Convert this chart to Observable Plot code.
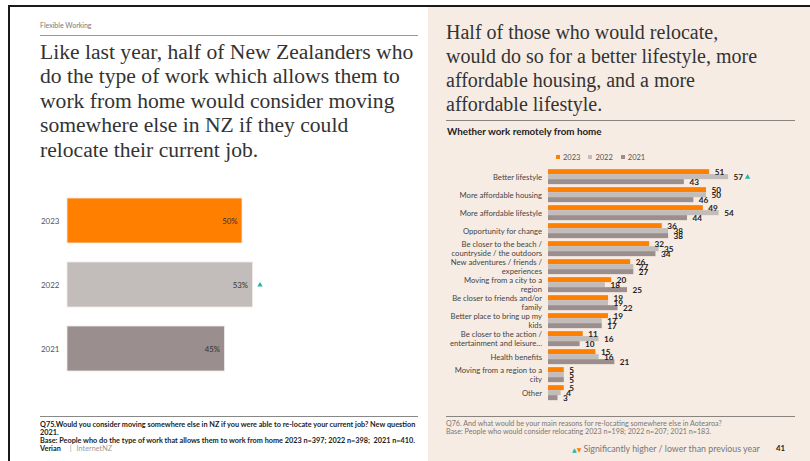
<!DOCTYPE html>
<html><head><meta charset="utf-8">
<script src="https://cdn.jsdelivr.net/npm/d3@7"></script>
<script src="https://cdn.jsdelivr.net/npm/@observablehq/plot@0.6"></script>
<style>
body{margin:0;}
#slide{position:relative;width:810px;height:461px;overflow:hidden;background:#fff;font-family:Lato, sans-serif;}
.abs{position:absolute;}
.serif{font-family:"Liberation Serif", serif;color:#333;white-space:nowrap;}
.note{white-space:nowrap;line-height:8px;}
</style></head><body>
<div id="slide">
  <div class="abs" style="left:428px;top:7px;width:382px;height:454px;background:#f7ece3"></div>
  <div class="abs" style="left:8px;top:5px;width:802px;height:2px;background:#1a1a1a"></div>
  <div class="abs" style="left:8px;top:5px;width:2px;height:456px;background:#1a1a1a"></div>

  <div class="abs" style="left:40px;top:20.5px;font-size:7px;color:#777;white-space:nowrap;">Flexible Working</div>
  <div class="abs" style="left:40px;top:35px;width:378px;height:1px;background:#999"></div>
  <div class="abs serif" style="left:40px;top:39.5px;font-size:21.6px;line-height:24.6px;">Like last year, half of New Zealanders who<br>do the type of work which allows them to<br>work from home would consider moving<br>somewhere else in NZ if they could<br>relocate their current job.</div>

  <div class="abs serif" style="left:446px;top:19.5px;font-size:20px;line-height:24px;">Half of those who would relocate,<br>would do so for a better lifestyle, more<br>affordable housing, and a more<br>affordable lifestyle.</div>
  <div class="abs" style="left:446px;top:120px;width:349px;height:1px;background:#8a8480"></div>
  <div class="abs" style="left:447px;top:124.5px;font-size:9.8px;font-weight:bold;color:#222;white-space:nowrap;">Whether work remotely from home</div>
  <div id="legend" class="abs" style="left:556px;top:152.5px;font-size:7.5px;color:#555;white-space:nowrap;"></div>

  <div id="leftchart" class="abs" style="left:0;top:180px;"></div>
  <div id="rightchart" class="abs" style="left:428px;top:160px;"></div>

  <div class="abs" style="left:40px;top:416px;width:378px;height:1px;background:#888"></div>
  <div class="abs note" style="left:40px;top:420.5px;font-size:7.3px;font-weight:bold;color:#222;">Q75.Would you consider moving somewhere else in NZ if you were able to re-locate your current job? New question<br>2021.<br>Base: People who do the type of work that allows them to work from home 2023 n=397; 2022 n=398;&nbsp; 2021 n=410.<br><span>Verian</span><span style="font-weight:normal;color:#999;margin-left:9px;">|</span><span style="font-weight:normal;color:#999;margin-left:5px;">InternetNZ</span></div>

  <div class="abs" style="left:446px;top:416px;width:349px;height:1px;background:#8a8480"></div>
  <div class="abs note" style="left:446px;top:420px;font-size:7.15px;color:#777;">Q76. And what would be your main reasons for re-locating somewhere else in Aotearoa?<br>Base: People who would consider relocating 2023 n=198; 2022 n=207; 2021 n=183.</div>
  <div class="abs" style="left:572px;top:442.5px;font-size:8.8px;color:#777;white-space:nowrap;"><span style="color:#26b5a8;font-size:6px;font-family:'DejaVu Sans'">▲</span><span style="color:#ff7f00;font-size:6px;font-family:'DejaVu Sans'">▼</span> Significantly higher / lower than previous year</div>
  <div class="abs" style="left:776px;top:443px;font-size:7.8px;font-weight:bold;color:#222;">41</div>
</div>
<script>
const years = ["2023", "2022", "2021"];
const colors = ["#ff7f00", "#c2bcbb", "#9a8f8e"];
const teal = "#26b5a8";

// Left chart: would consider moving
const leftValues = [50, 53, 45];
const leftSig = ["", "up", ""];

// Right chart: reasons for relocating
const reasons = [
  "Better lifestyle",
  "More affordable housing",
  "More affordable lifestyle",
  "Opportunity for change",
  "Be closer to the beach /\ncountryside / the outdoors",
  "New adventures / friends /\nexperiences",
  "Moving from a city to a\nregion",
  "Be closer to friends and/or\nfamily",
  "Better place to bring up my\nkids",
  "Be closer to the action /\nentertainment and leisure…",
  "Health benefits",
  "Moving from a region to a\ncity",
  "Other"
];
const v2023 = [51, 50, 49, 36, 32, 26, 20, 19, 19, 11, 15, 5, 5];
const v2022 = [57, 50, 54, 38, 35, 27, 18, 19, 17, 16, 16, 5, 4];
const v2021 = [43, 46, 44, 38, 34, 27, 25, 22, 17, 10, 21, 5, 3];
const sig2022 = ["up", "", "", "", "", "", "", "", "", "", "", "", ""];

const leftData = years.map((y, i) => ({year: y, value: leftValues[i], sig: leftSig[i]}));

const left = Plot.plot({
  width: 428, height: 205,
  marginLeft: 67, marginRight: 11, marginTop: 8.5, marginBottom: 4.5,
  style: {background: "transparent", fontFamily: "Lato, sans-serif"},
  x: {domain: [0, 100], axis: null},
  y: {domain: years, paddingInner: 0.297, paddingOuter: 0.148, label: null},
  color: {domain: years, range: colors},
  marks: [
    Plot.barX(leftData, {x: "value", y: "year", fill: "year", stroke: "#eeeae8", strokeWidth: 0.8}),
    Plot.axisY({tickSize: 0, tickPadding: 8, fontSize: 8, color: "#555", label: null}),
    Plot.text(leftData, {x: "value", y: "year", text: d => d.value + "%", textAnchor: "end", dx: -5, fontSize: 7.8, fill: "#333"}),
    Plot.dot(leftData.filter(d => d.sig === "up"), {x: "value", y: "year", symbol: "triangle", r: 2, fill: teal, stroke: null, dx: 7})
  ]
});
document.getElementById("leftchart").appendChild(left);

const series = {"2023": v2023, "2022": v2022, "2021": v2021};
const rows = [];
reasons.forEach((r, i) => {
  years.forEach(y => {
    rows.push({reason: r, year: y, value: series[y][i], sig: y === "2022" ? sig2022[i] : ""});
  });
});

const right = Plot.plot({
  width: 382, height: 248,
  marginLeft: 120, marginRight: 9.2, marginTop: 4.85, marginBottom: 5,
  style: {background: "transparent", fontFamily: "Lato, sans-serif"},
  x: {domain: [0, 80], axis: null},
  y: {domain: years, padding: 0, axis: null},
  fy: {domain: reasons, paddingInner: 0.18, paddingOuter: 0.09, label: null},
  color: {domain: years, range: colors},
  marks: [
    Plot.barX(rows, {x: "value", y: "year", fy: "reason", fill: "year"}),
    Plot.axisFy({anchor: "left", tickSize: 0, tickPadding: 6.5, fontSize: 7.7, lineHeight: 1.17, color: "#444", label: null}),
    Plot.text(rows, {x: "value", y: "year", fy: "reason", text: d => String(d.value), textAnchor: "start", dx: 5, fontSize: 8.2, fontWeight: "bold", fill: "#222"}),
    Plot.dot(rows.filter(d => d.sig === "up"), {x: "value", y: "year", fy: "reason", symbol: "triangle", r: 2, fill: teal, stroke: null, dx: 19})
  ]
});
document.getElementById("rightchart").appendChild(right);

// Legend
const legend = document.getElementById("legend");
years.forEach((y, i) => {
  const item = document.createElement("span");
  item.style.marginRight = "8px";
  item.innerHTML = `<span style="display:inline-block;width:4px;height:4px;background:${colors[i]};margin-right:3px;vertical-align:1px"></span>${y}`;
  legend.appendChild(item);
});
</script>
</body></html>
